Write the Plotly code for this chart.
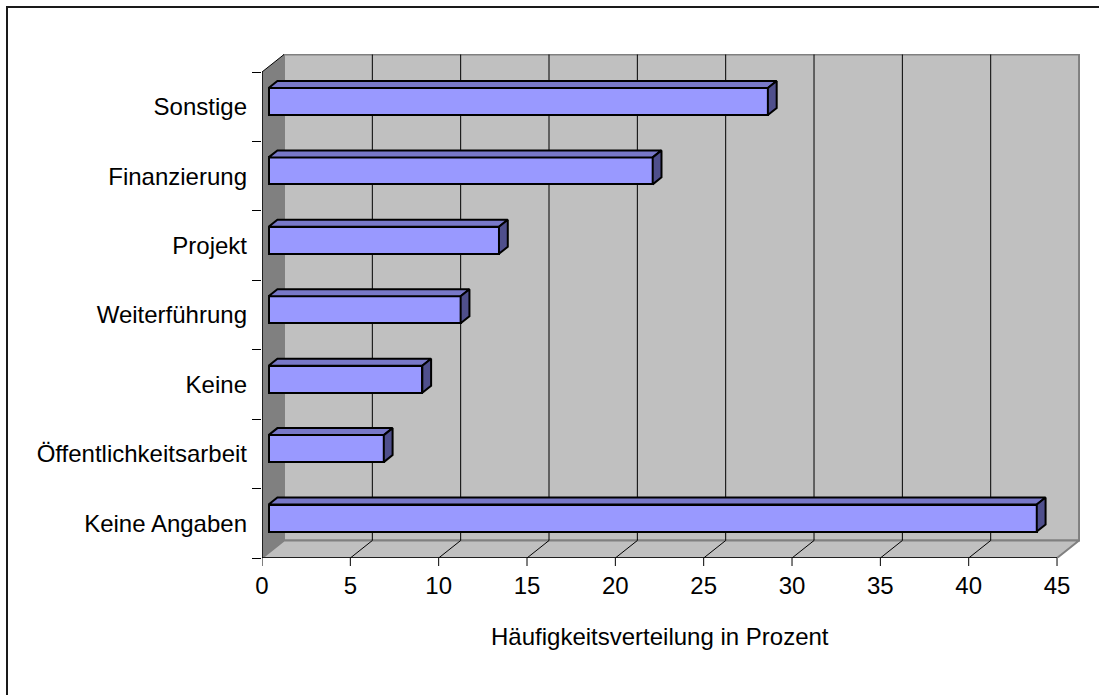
import plotly.graph_objects as go

# Häufigkeitsverteilung (Mehrfachnennungen, n = 46)
categories = ["Keine Angaben", "Öffentlichkeitsarbeit", "Keine", "Weiterführung",
              "Projekt", "Finanzierung", "Sonstige"]
values = [43.48, 6.52, 8.70, 10.87, 13.04, 21.74, 28.26]
x_ticks = [0, 5, 10, 15, 20, 25, 30, 35, 40, 45]
x_title = "Häufigkeitsverteilung in Prozent"

FONT = "Liberation Sans, Arial, sans-serif"
FS = 24

# plot geometry (pixels)
W, H = 1099, 695
L, R, T, B = 262, 19, 54, 137
plot_w = W - L - R
plot_h = H - T - B
X_MAX_AX = 46.3
px_per_x = plot_w / X_MAX_AX
n = len(categories)
Y_LO = -0.5
px_per_y = (H - B - T - 18) / n          # front plane height per category
Y_HI = Y_LO + plot_h / px_per_y

# 3D depth offset of the back wall (in axis units)
DX = 22 / px_per_x
DY = 17.5 / px_per_y
X_END = x_ticks[-1]

# bar depth placement and thickness
D0, D1 = 0.3, 0.7
BAR_H = 27 / px_per_y

FRONT = "#9999FF"
TOP = "#7878C8"
SIDE = "#4F4F8C"
WALL = "#C0C0C0"
SIDEWALL = "#808080"

shapes = []
# back wall
shapes.append(dict(type="rect", xref="x", yref="y", layer="below",
                   x0=DX, x1=X_END + DX, y0=Y_LO + DY, y1=Y_LO + n + DY,
                   fillcolor=WALL, line=dict(color="#808080", width=2)))
# floor
shapes.append(dict(type="path", xref="x", yref="y", layer="below",
                   path=f"M0,{Y_LO} L{X_END},{Y_LO} L{X_END+DX},{Y_LO+DY} L{DX},{Y_LO+DY} Z",
                   fillcolor=WALL, line=dict(color="#808080", width=2)))
# left side wall
shapes.append(dict(type="path", xref="x", yref="y", layer="below",
                   path=f"M0,{Y_LO} L{DX},{Y_LO+DY} L{DX},{Y_LO+n+DY} L0,{Y_LO+n} Z",
                   fillcolor=SIDEWALL, line=dict(width=0)))
# gridlines on back wall and floor
for v in x_ticks[1:-1]:
    shapes.append(dict(type="line", xref="x", yref="y", layer="below",
                       x0=v + DX, x1=v + DX, y0=Y_LO + DY, y1=Y_LO + n + DY,
                       line=dict(color="black", width=1)))
    shapes.append(dict(type="line", xref="x", yref="y", layer="below",
                       x0=v, x1=v + DX, y0=Y_LO, y1=Y_LO + DY,
                       line=dict(color="black", width=1)))
# x tick marks below the front edge
for v in x_ticks:
    shapes.append(dict(type="line", xref="x", yref="paper",
                       x0=v, x1=v, y0=0, y1=-8 / plot_h,
                       line=dict(color="black", width=1)))
# axis lines (front plane)
shapes.append(dict(type="line", xref="x", yref="y", x0=0, x1=X_END, y0=Y_LO, y1=Y_LO,
                   line=dict(color="black", width=1.5)))
shapes.append(dict(type="line", xref="x", yref="y", x0=0, x1=0, y0=Y_LO, y1=Y_LO + n,
                   line=dict(color="black", width=1.5)))
shapes.append(dict(type="line", xref="x", yref="y", x0=0, x1=DX, y0=Y_LO + n, y1=Y_LO + n + DY,
                   line=dict(color="black", width=1)))
# outer chart border
shapes.append(dict(type="rect", xref="paper", yref="paper",
                   x0=(7 - L) / plot_w, x1=(W + 10 - L) / plot_w,
                   y0=(H - B - (H + 10)) / plot_h, y1=(H - B - 7) / plot_h,
                   line=dict(color="#1a1a1a", width=2), fillcolor="rgba(0,0,0,0)"))

fig = go.Figure()

b0 = D0 * DX
ddx = (D1 - D0) * DX
ddy = (D1 - D0) * DY
for i, v in enumerate(values):
    yc = i + D0 * DY
    yt = yc + BAR_H / 2
    yb = yc - BAR_H / 2
    # top face
    fig.add_trace(go.Scatter(
        x=[b0, b0 + v, b0 + v + ddx, b0 + ddx, b0],
        y=[yt, yt, yt + ddy, yt + ddy, yt],
        mode="lines", fill="toself", fillcolor=TOP,
        line=dict(color="black", width=2), hoverinfo="skip", showlegend=False))
    # right end face
    fig.add_trace(go.Scatter(
        x=[b0 + v, b0 + v + ddx, b0 + v + ddx, b0 + v, b0 + v],
        y=[yb, yb + ddy, yt + ddy, yt, yb],
        mode="lines", fill="toself", fillcolor=SIDE,
        line=dict(color="black", width=2), hoverinfo="skip", showlegend=False))

# front faces of the bars
fig.add_trace(go.Bar(
    orientation="h",
    x=values,
    y=[i + D0 * DY for i in range(n)],
    base=[b0] * n,
    width=BAR_H,
    marker=dict(color=FRONT, line=dict(color="black", width=2)),
    hovertext=categories, showlegend=False))

fig.add_annotation(x=X_END / 2, xref="x", y=(558 - 636) / plot_h, yref="paper",
                   text=x_title, showarrow=False, yanchor="middle",
                   font=dict(family=FONT, size=FS, color="black"))

fig.update_layout(
    width=W, height=H,
    margin=dict(l=L, r=R, t=T, b=B, pad=0),
    paper_bgcolor="white", plot_bgcolor="white",
    font=dict(family=FONT, size=FS, color="black"),
    shapes=shapes,
    bargap=0,
    xaxis=dict(range=[0, X_MAX_AX], tickvals=x_ticks, ticktext=[str(t) for t in x_ticks],
               showgrid=False, zeroline=False, showline=False,
               ticks="", ticklabelstandoff=11),
    yaxis=dict(range=[Y_LO, Y_HI], tickvals=list(range(n)), ticktext=categories,
               showgrid=False, zeroline=False, showline=False, ticks="",
               ticklabelstandoff=14,
               minor=dict(tickvals=[Y_LO + k for k in range(n + 1)], ticks="outside",
                          ticklen=9, tickcolor="black", tickwidth=1, showgrid=False)),
)

fig.write_html("out.html")
